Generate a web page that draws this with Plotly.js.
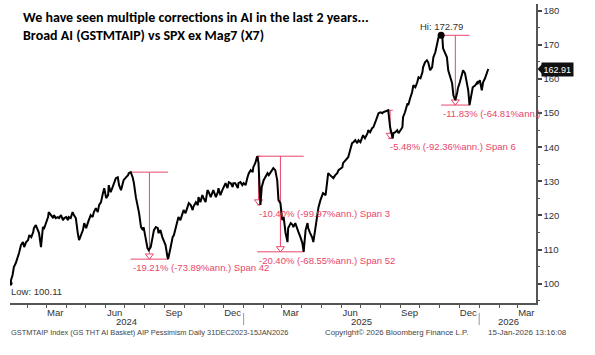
<!DOCTYPE html>
<html>
<head>
<meta charset="utf-8">
<script src="https://cdn.plot.ly/plotly-3.0.1.min.js"></script>
<style>
html,body{margin:0;padding:0;background:#fff;}
#chart{width:595px;height:355px;}
</style>
</head>
<body>
<div id="chart"></div>
<script>
// ---- Data ----
const dates = [
"2024-01-05","2024-01-09","2024-01-11","2024-01-14","2024-01-19","2024-01-22","2024-01-25","2024-01-27","2024-01-30","2024-02-02",
"2024-02-04","2024-02-07","2024-02-10","2024-02-11","2024-02-14","2024-02-17","2024-02-19","2024-02-22","2024-02-25","2024-02-27",
"2024-03-01","2024-03-04","2024-03-05","2024-03-09","2024-03-12","2024-03-13","2024-03-16","2024-03-19","2024-03-21","2024-03-24",
"2024-03-27","2024-03-29","2024-04-01","2024-04-04","2024-04-05","2024-04-08","2024-04-11","2024-04-13","2024-04-16","2024-04-19",
"2024-04-21","2024-04-24","2024-04-27","2024-04-29","2024-05-02","2024-05-05","2024-05-06","2024-05-09","2024-05-12","2024-05-14",
"2024-05-17","2024-05-20","2024-05-22","2024-05-25","2024-05-28","2024-05-30","2024-06-02","2024-06-05","2024-06-06","2024-06-09",
"2024-06-12","2024-06-14","2024-06-17","2024-06-20","2024-06-22","2024-06-25","2024-06-28","2024-06-29","2024-07-03","2024-07-06",
"2024-07-07","2024-07-10","2024-07-13","2024-07-15","2024-07-18","2024-07-21","2024-07-23","2024-07-26","2024-07-29","2024-07-30",
"2024-08-02","2024-08-05","2024-08-07","2024-08-10","2024-08-13","2024-08-15","2024-08-18","2024-08-21","2024-08-22","2024-08-25",
"2024-08-28","2024-08-30","2024-09-02","2024-09-05","2024-09-06","2024-09-10","2024-09-13","2024-09-15","2024-09-18","2024-09-21",
"2024-09-22","2024-09-25","2024-09-28","2024-09-30","2024-10-03","2024-10-06","2024-10-08","2024-10-11","2024-10-14","2024-10-15",
"2024-10-19","2024-10-22","2024-10-23","2024-10-26","2024-10-29","2024-10-31","2024-11-03","2024-11-06","2024-11-08","2024-11-11",
"2024-11-14","2024-11-15","2024-11-19","2024-11-22","2024-11-23","2024-11-26","2024-11-29","2024-12-01","2024-12-04","2024-12-07",
"2024-12-09","2024-12-12","2024-12-15","2024-12-16","2024-12-19","2024-12-23","2024-12-24","2024-12-27","2024-12-30","2025-01-01",
"2025-01-04","2025-01-07","2025-01-09","2025-01-12","2025-01-15","2025-01-16","2025-01-19","2025-01-22","2025-01-24","2025-01-27",
"2025-01-29","2025-02-01","2025-02-04","2025-02-07","2025-02-09","2025-02-12","2025-02-15","2025-02-16","2025-02-19","2025-02-22",
"2025-02-24","2025-02-27","2025-03-02","2025-03-04","2025-03-07","2025-03-10","2025-03-11","2025-03-15","2025-03-18","2025-03-19",
"2025-03-22","2025-03-25","2025-03-27","2025-03-30","2025-04-02","2025-04-04","2025-04-07","2025-04-10","2025-04-11","2025-04-14",
"2025-04-17","2025-04-19","2025-04-22","2025-04-25","2025-04-27","2025-04-30","2025-05-03","2025-05-04","2025-05-08","2025-05-11",
"2025-05-12","2025-05-15","2025-05-18","2025-05-20","2025-05-23","2025-05-26","2025-05-28","2025-05-31","2025-06-03","2025-06-04",
"2025-06-08","2025-06-11","2025-06-12","2025-06-15","2025-06-18","2025-06-20","2025-06-23","2025-06-26","2025-06-28","2025-07-01",
"2025-07-04","2025-07-05","2025-07-08","2025-07-12","2025-07-13","2025-07-16","2025-07-19","2025-07-21","2025-07-24","2025-07-27",
"2025-07-29","2025-08-01","2025-08-04","2025-08-05","2025-08-08","2025-08-11","2025-08-13","2025-08-16","2025-08-20","2025-08-21",
"2025-08-24","2025-08-27","2025-08-29","2025-09-01","2025-09-04","2025-09-05","2025-09-08","2025-09-12","2025-09-13","2025-09-16",
"2025-09-19","2025-09-21","2025-09-24","2025-09-27","2025-09-29","2025-10-02","2025-10-05","2025-10-06","2025-10-09","2025-10-12",
"2025-10-14","2025-10-17","2025-10-20","2025-10-22","2025-10-25","2025-10-28","2025-10-30","2025-11-03","2025-11-05","2025-11-06",
"2025-11-09","2025-11-12","2025-11-14","2025-11-17","2025-11-20","2025-11-22","2025-11-25","2025-11-28","2025-11-29","2025-12-02",
"2025-12-05","2025-12-07","2025-12-10","2025-12-13","2025-12-15","2025-12-17","2025-12-21","2025-12-22","2025-12-26","2025-12-29",
"2025-12-30","2026-01-02","2026-01-05","2026-01-07","2026-01-10","2026-01-13","2026-01-15"
];
const values = [
100.11,102.55,104.89,106.06,108.98,111.32,112.20,110.74,112.20,112.79,
114.25,113.66,115.13,116.30,117.17,115.71,114.83,110.74,116.59,116.30,
118.05,119.52,120.98,120.10,119.22,120.10,119.22,119.52,119.22,120.10,
118.64,119.22,119.52,118.64,119.52,119.22,120.98,120.10,119.22,114.83,
112.79,114.25,115.71,117.76,116.30,118.05,118.64,120.10,119.52,120.98,
122.15,120.98,123.03,123.91,126.54,128.00,125.08,125.96,128.88,126.83,
128.30,129.47,130.93,131.22,128.88,127.42,129.47,130.34,131.22,131.81,
132.39,132.69,131.22,129.47,125.37,122.44,120.69,116.59,115.71,116.59,
113.66,110.45,109.86,110.74,113.66,115.71,116.59,116.30,114.83,115.71,
113.66,112.79,111.32,107.81,107.20,110.74,113.66,114.25,116.59,118.05,
119.52,118.64,120.69,121.57,120.69,122.44,123.61,123.03,121.57,122.44,
123.91,123.03,125.37,123.91,125.96,125.08,123.91,127.42,126.83,125.37,
126.54,127.42,125.37,126.83,128.00,125.96,127.42,128.30,129.47,128.00,
129.76,129.47,128.30,129.47,129.47,128.00,129.47,129.76,128.88,129.47,
128.88,131.22,132.39,133.27,132.69,134.15,135.32,137.36,135.50,123.07,
128.30,130.34,131.22,132.39,131.81,132.69,133.27,133.86,133.27,130.34,
124.49,123.61,118.64,119.52,114.83,112.20,116.30,117.76,117.17,116.59,
117.76,115.71,115.13,113.66,111.91,109.34,115.71,117.76,116.30,114.83,
113.66,112.20,116.59,119.52,122.44,124.49,125.96,126.54,125.96,130.34,
132.39,131.81,131.22,130.93,131.81,132.39,133.27,133.86,134.15,135.32,
136.19,136.78,137.07,139.12,141.17,141.46,142.05,141.17,142.05,141.46,
142.93,143.51,142.63,144.10,144.98,144.39,145.56,145.85,147.32,149.36,
149.95,150.24,149.95,150.24,150.50,150.70,150.83,145.85,142.56,144.10,
144.39,144.98,144.10,144.98,145.85,148.78,150.24,152.88,152.29,154.34,
156.12,158.14,157.56,159.02,160.49,160.19,161.95,163.41,164.88,165.46,
164.88,162.53,163.41,166.34,167.80,170.44,172.19,172.79,171.89,168.97,
167.80,166.34,162.53,160.19,158.73,155.22,153.76,156.12,157.26,159.02,
161.07,162.53,161.66,159.02,156.68,152.35,156.68,157.56,158.14,159.02,
158.73,159.60,156.68,159.02,160.19,161.66,162.91
];

// drawdown annotations (peak date, trough date, label)
const ddPeaks   = ["2024-07-10","2025-01-22","2025-01-22","2025-08-13","2025-11-03"];
const ddTroughs = ["2024-09-06","2025-01-27","2025-04-04","2025-08-20","2025-12-17"];
const ddLabels  = ["-19.21% (-73.89%ann.) Span 42","-10.40% (-99.97%ann.) Span 3","-20.40% (-68.55%ann.) Span 52","-5.48% (-92.36%ann.) Span 6","-11.83% (-64.81%ann.)"];

const monthTickDates = ["2024-03-15","2024-06-15","2024-09-15","2024-12-15","2025-03-15","2025-06-15","2025-09-15","2025-12-15","2026-03-15"];
const monthTickText  = ["Mar","Jun","Sep","Dec","Mar","Jun","Sep","Dec","Mar"];
const yearLabels = ["2024","2025","2026"];
const yearLabelDates = ["2024-07-03","2025-07-02","2026-02-15"];
const yearBreaks = ["2025-01-01","2026-01-01"];
const yTicks = [100,110,120,130,140,150,160,170,180];

const titleText = "We have seen multiple corrections in AI in the last 2 years...<br>Broad AI (GSTMTAIP) vs SPX ex Mag7 (X7)";
const footLeft = "GSTMTAIP Index (GS THT AI Basket) AIP Pessimism Daily 31DEC2023-15JAN2026";
const footMid = "Copyright\u00A9 2026 Bloomberg Finance L.P.";
const footRight = "15-Jan-2026 13:16:08";

// ---- Build ----
const RED = "#e8466a";
const FONT = "'Liberation Sans', Arial, sans-serif";
const xRange = ["2024-01-05","2026-03-30"];
const yRange = [94.35, 181.96];

function valAt(d){ return values[dates.indexOf(d)]; }
function midDate(a,b){ const t=(new Date(a).getTime()+new Date(b).getTime())/2; return new Date(t).toISOString().slice(0,10); }

// month start minor ticks
const monthStarts = [];
for (let y=2024; y<=2026; y++) for (let m=1; m<=12; m++){
  const s = y+"-"+String(m).padStart(2,"0")+"-01";
  if (s > "2024-01-05" && s < "2026-03-30") monthStarts.push(s);
}

const traces = [];
const annotations = [];
const shapes = [];

ddPeaks.forEach((p,i)=>{
  const t = ddTroughs[i];
  const pv = valAt(p), tv = valAt(t);
  const m = midDate(p,t);
  traces.push({x:[p,t],y:[pv,pv],mode:"lines",line:{color:RED,width:1},hoverinfo:"skip"});
  traces.push({x:[p,t],y:[tv,tv],mode:"lines",line:{color:RED,width:1},hoverinfo:"skip"});
  traces.push({x:[m,m],y:[pv,tv+1.6],mode:"lines",line:{color:RED,width:1},hoverinfo:"skip"});
  traces.push({x:[m],y:[tv+1.0],mode:"markers",marker:{symbol:"triangle-down-open",size:7,color:RED,line:{width:1,color:RED}},hoverinfo:"skip"});
  annotations.push({x:p,y:tv,xref:"x",yref:"y",text:ddLabels[i],showarrow:false,xanchor:"left",yanchor:"top",
    xshift:0,yshift:-1,font:{family:FONT,size:9.5,color:RED}});
});

// main series
traces.push({x:dates,y:values,mode:"lines",line:{color:"#000",width:2},hoverinfo:"skip"});

// hi and low dots
const hiIdx = values.indexOf(Math.max(...values));
const loIdx = values.indexOf(Math.min(...values));
traces.push({x:[dates[hiIdx]],y:[values[hiIdx]],mode:"markers",marker:{size:7,color:"#000"},hoverinfo:"skip"});
traces.push({x:[dates[loIdx]],y:[values[loIdx]],mode:"markers",marker:{size:5,color:"#000"},hoverinfo:"skip"});

annotations.push({x:dates[hiIdx],y:values[hiIdx],xref:"x",yref:"y",text:"Hi: "+values[hiIdx].toFixed(2),showarrow:false,
  xanchor:"center",yanchor:"bottom",yshift:1,font:{family:FONT,size:9.5,color:"#333"}});
annotations.push({x:dates[loIdx],y:values[loIdx],xref:"x",yref:"y",text:"Low: "+values[loIdx].toFixed(2),showarrow:false,
  xanchor:"left",yanchor:"top",xshift:-1,yshift:-1,font:{family:FONT,size:9.5,color:"#333"}});

// last value tag
const last = values[values.length-1];
annotations.push({x:1,y:last,xref:"paper",yref:"y",text:last.toFixed(2),showarrow:false,xanchor:"left",yanchor:"middle",
  xshift:5,bgcolor:"#111",borderpad:1.5,font:{family:FONT,size:9,color:"#fff"}});
shapes.push({type:"path",xref:"paper",yref:"y",path:"M 1.003,"+last+" L 1.013,"+(last+1.7)+" L 1.013,"+(last-1.7)+" Z",
  fillcolor:"#111",line:{width:0}});

// year labels and separators
yearLabels.forEach((t,i)=>{
  annotations.push({x:yearLabelDates[i],y:0,xref:"x",yref:"paper",text:t,showarrow:false,xanchor:"center",yanchor:"middle",
    yshift:-18,font:{family:FONT,size:9.5,color:"#333"}});
});
yearBreaks.forEach(d=>{
  shapes.push({type:"line",xref:"x",yref:"paper",x0:d,x1:d,y0:-0.033,y1:-0.074,line:{color:"#999",width:1}});
});

// footer
annotations.push({x:0,y:0,xref:"paper",yref:"paper",text:footLeft,showarrow:false,xanchor:"left",yanchor:"middle",
  xshift:-1,yshift:-29,font:{family:FONT,size:7.4,color:"#444"}});
annotations.push({x:(323-10)/526,y:0,xref:"paper",yref:"paper",text:footMid,showarrow:false,xanchor:"left",yanchor:"middle",
  yshift:-29,font:{family:FONT,size:7.8,color:"#444"}});
annotations.push({x:1.0,y:0,xref:"paper",yref:"paper",text:footRight,showarrow:false,xanchor:"right",yanchor:"middle",
  xshift:33,yshift:-29,font:{family:FONT,size:8,color:"#444"}});

const layout = {
  width:595, height:355,
  margin:{l:10,r:59,t:4,b:52,pad:0},
  paper_bgcolor:"#fff", plot_bgcolor:"#fff",
  showlegend:false,
  title:{text:titleText,x:23/595,xanchor:"left",y:1-22/355,yanchor:"top",yref:"container",
    font:{family:"Carlito, 'Liberation Sans Narrow', 'Arial Narrow', 'Liberation Sans', sans-serif",size:14,color:"#000",weight:"bold"}},
  xaxis:{type:"date",range:xRange,showgrid:false,zeroline:false,showline:true,linecolor:"#555",linewidth:1.5,
    tickmode:"array",tickvals:monthTickDates,ticktext:monthTickText,ticks:"",
    tickfont:{family:FONT,size:9.5,color:"#333"},
    minor:{tickmode:"array",tickvals:monthStarts,ticks:"outside",ticklen:3,tickwidth:1,tickcolor:"#555",showgrid:false}},
  yaxis:{range:yRange,side:"right",showgrid:false,zeroline:false,showline:true,linecolor:"#555",linewidth:1.5,
    tickmode:"array",tickvals:yTicks,ticks:"outside",ticklen:4,tickwidth:2,tickcolor:"#444",
    tickfont:{family:FONT,size:9.5,color:"#333"},
    minor:{dtick:5,ticks:"outside",ticklen:2,tickwidth:1,tickcolor:"#555",showgrid:false}},
  annotations:annotations,
  shapes:shapes
};

Plotly.newPlot("chart",traces,layout,{staticPlot:true,displayModeBar:false});
</script>
</body>
</html>
